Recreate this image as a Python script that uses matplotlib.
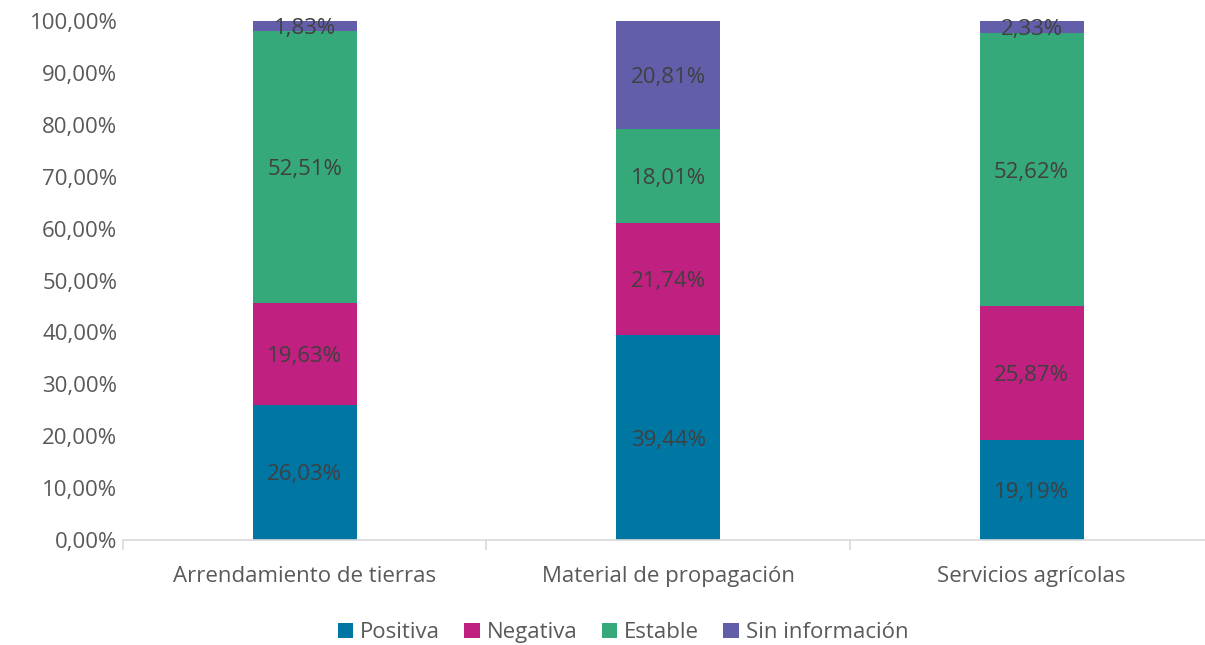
import numpy as np
import matplotlib.pyplot as plt
from matplotlib.ticker import FuncFormatter

categories = ["Arrendamiento de tierras", "Material de propagación", "Servicios agrícolas"]
series_names = ["Positiva", "Negativa", "Estable", "Sin información"]
positiva = [26.03, 39.44, 19.19]
negativa = [19.63, 21.74, 25.87]
estable = [52.51, 18.01, 52.62]
sin_info = [1.83, 20.81, 2.33]
colors = ["#0077A3", "#C0207F", "#36A97A", "#625EAA"]


def pct(v):
    return f"{v:.2f}%".replace(".", ",")


def main():
    plt.rcParams['font.family'] = ['Open Sans', 'DejaVu Sans']
    fig = plt.figure(figsize=(12.05, 6.45), dpi=100)
    ax = fig.add_axes([0.102, 0.163, 0.898, 0.804])

    x = np.arange(len(categories))
    bottom = np.zeros(len(categories))
    for name, vals, col in zip(series_names, [positiva, negativa, estable, sin_info], colors):
        vals = np.array(vals)
        ax.bar(x, vals, width=0.286, bottom=bottom, color=col, label=name)
        for xi, b, v in zip(x, bottom, vals):
            ax.text(xi, b + v / 2, pct(v), ha='center', va='center_baseline',
                    fontsize=16, color='#404040')
        bottom += vals

    ax.set_yticks(np.arange(0, 101, 10))
    ax.yaxis.set_major_formatter(FuncFormatter(lambda v, p: pct(v)))
    ax.set_xticks(x)
    ax.set_xticklabels(categories)
    ax.set_xticks([-0.5, 0.5, 1.5, 2.5], minor=True)
    ax.set_xlim(-0.5, 2.477)
    ax.set_ylim(0, 100)

    for s in ['top', 'right', 'left']:
        ax.spines[s].set_visible(False)
    ax.spines['bottom'].set_color('#D9D9D9')
    ax.spines['bottom'].set_linewidth(1.2)
    ax.tick_params(axis='y', length=0, labelsize=16, labelcolor='#595959', pad=4)
    ax.tick_params(axis='x', which='major', length=0, labelsize=16,
                   labelcolor='#595959', pad=19)
    ax.tick_params(axis='x', which='minor', length=7, color='#D9D9D9', width=1.2)

    fig.legend(loc='lower center', bbox_to_anchor=(0.517, -0.028), ncol=4, frameon=False,
               fontsize=16, labelcolor='#595959', handlelength=0.7, handleheight=0.7,
               handletextpad=0.3, columnspacing=1.1)

    fig.savefig('out.png', dpi=100)


if __name__ == '__main__':
    main()
